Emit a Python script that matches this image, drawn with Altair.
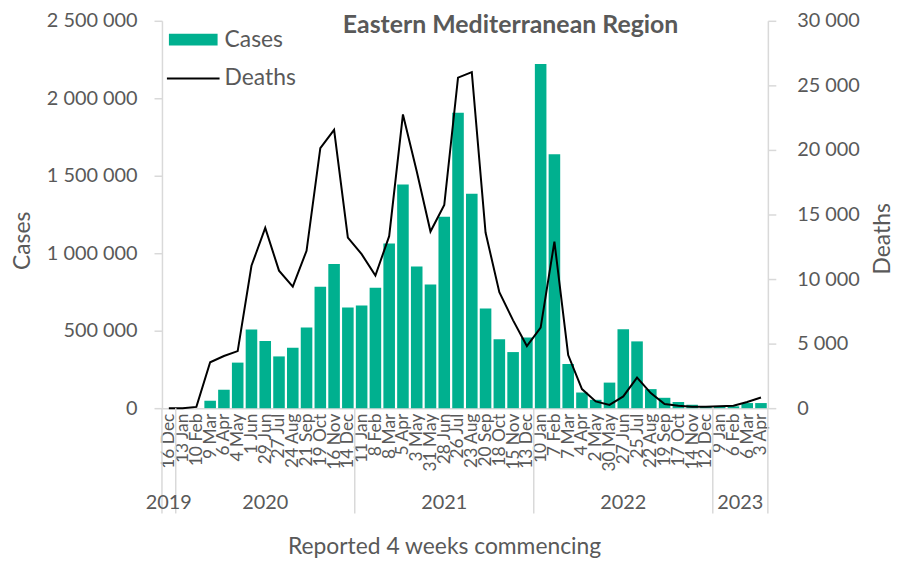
import json
import altair as alt
import pandas as pd

# ---------------- data ----------------
periods = ["16 Dec", "13 Jan", "10 Feb", "9 Mar", "6 Apr", "4 May", "1 Jun", "29 Jun", "27 Jul",
           "24 Aug", "21 Sep", "19 Oct", "16 Nov", "14 Dec", "11 Jan", "8 Feb", "8 Mar", "5 Apr",
           "3 May", "31 May", "28 Jun", "26 Jul", "23 Aug", "20 Sep", "18 Oct", "15 Nov", "13 Dec",
           "10 Jan", "7 Feb", "7 Mar", "4 Apr", "2 May", "30 May", "27 Jun", "25 Jul", "22 Aug",
           "19 Sep", "17 Oct", "14 Nov", "12 Dec", "9 Jan", "6 Feb", "6 Mar", "3 Apr"]
cases = [0, 0, 0, 48000, 119000, 294000, 508000, 433000, 334000,
         390000, 520000, 783000, 930000, 649000, 663000, 777000, 1063000, 1443000,
         915000, 798000, 1236000, 1907000, 1383000, 644000, 445000, 362000, 456000,
         2221000, 1638000, 285000, 101000, 54000, 165000, 510000, 431000, 123000,
         67000, 40000, 22000, 12000, 10000, 12000, 33000, 33000]
deaths = [0, 0, 100, 3550, 4040, 4420, 11030, 13960, 10650,
          9420, 12190, 20130, 21550, 13210, 11930, 10270, 13320, 22750,
          18340, 13680, 15730, 25600, 26030, 13600, 8980, 6800, 4810,
          6240, 12900, 4110, 1480, 520, 250, 910, 2370, 1170,
          320, 190, 115, 115, 150, 190, 480, 830]
years = ["2019", "2020", "2021", "2022", "2023"]
periods_per_year = [1, 13, 13, 13, 4]
chart_title = "Eastern Mediterranean Region"
legend_labels = ["Cases", "Deaths"]

# ---------------- styling ----------------
FONT = "Lato"
GREEN = "#00B08F"
TXT = "#595959"
AX = "#D9D9D9"
W, H = 610, 390

n = len(periods)
df = pd.DataFrame({"i": list(range(n)), "period": periods, "cases": cases, "deaths": deaths})

bounds = [-0.5]
for c in periods_per_year:
    bounds.append(bounds[-1] + c)
centers = [(bounds[k] + bounds[k + 1]) / 2 for k in range(len(years))]
sep_df = pd.DataFrame({"b": bounds})
year_df = pd.DataFrame({"c": centers, "year": years})
one = pd.DataFrame({"k": [0]})

xs = alt.Scale(domain=[-0.5, n - 0.5], nice=False, zero=False)
label_expr = json.dumps(periods) + "[datum.value]"
num_expr = "replace(format(datum.value, ','), /,/g, ' ')"

x_axis = alt.Axis(
    values=list(range(n)), labelExpr=label_expr, labelAngle=270, labelAlign="right",
    labelBaseline="middle", labelOverlap=False, labelBound=False, labelFlush=False,
    labelPadding=5, ticks=False, grid=False, labelFont=FONT, labelFontSize=17.5,
    labelColor=TXT, domainColor=AX, domainWidth=1.5,
    title="Reported 4 weeks commencing", titleFont=FONT, titleFontSize=23,
    titleFontWeight="normal", titleColor=TXT, titleX=284, titleY=139,
    titleBaseline="middle", titleAlign="center",
)

left_axis = alt.Axis(
    values=[0, 500000, 1000000, 1500000, 2000000, 2500000], labelExpr=num_expr,
    grid=False, tickSize=8, tickColor=AX, domainColor=AX, domainWidth=1.5, tickWidth=1.5,
    labelPadding=17, labelFont=FONT, labelFontSize=20, labelColor=TXT,
    title="Cases", titleFont=FONT, titleFontSize=23, titleFontWeight="normal", titleColor=TXT,
    titleAngle=270, titleX=-140, titleY=221, titleBaseline="middle", titleAlign="center",
)

right_axis = alt.Axis(
    orient="right", values=[0, 5000, 10000, 15000, 20000, 25000, 30000], labelExpr=num_expr,
    grid=False, tickSize=8, tickColor=AX, domainColor=AX, domainWidth=1.5, tickWidth=1.5,
    labelPadding=21, labelFont=FONT, labelFontSize=20, labelColor=TXT, labelAlign="left",
    title="Deaths", titleFont=FONT, titleFontSize=23, titleFontWeight="normal", titleColor=TXT,
    titleAngle=270, titleX=115, titleY=219, titleBaseline="middle", titleAlign="center",
)

bars = alt.Chart(df).transform_calculate(
    x0="datum.i - 0.42", x1="datum.i + 0.42"
).mark_rect(color=GREEN).encode(
    x=alt.X("x0:Q", scale=xs, axis=x_axis),
    x2="x1:Q",
    y=alt.Y("cases:Q", scale=alt.Scale(domain=[0, 2500000], nice=False, zero=True), axis=left_axis),
    y2=alt.datum(0),
)

line = alt.Chart(df).mark_line(color="black", strokeWidth=2).encode(
    x=alt.X("i:Q", scale=xs, axis=x_axis),
    y=alt.Y("deaths:Q", scale=alt.Scale(domain=[0, 30000], nice=False), axis=right_axis),
)

seps = alt.Chart(sep_df).mark_rule(color=AX, strokeWidth=1.5).encode(
    x=alt.X("b:Q", scale=xs, axis=x_axis),
    y=alt.value(H), y2=alt.value(H + 106),
)

year_text = alt.Chart(year_df).mark_text(
    font=FONT, fontSize=20, color=TXT, baseline="middle", align="center"
).encode(
    x=alt.X("c:Q", scale=xs, axis=x_axis), y=alt.value(H + 96), text="year:N",
)

title_text = alt.Chart(one).mark_text(
    font=FONT, fontSize=25, fontWeight="bold", color=TXT, baseline="middle", align="center"
).encode(x=alt.value(351), y=alt.value(4), text=alt.value(chart_title))

leg_rect = alt.Chart(one).mark_rect(color=GREEN).encode(
    x=alt.value(7), x2=alt.value(56), y=alt.value(13), y2=alt.value(25)
)
leg_rule = alt.Chart(one).mark_rule(color="black", strokeWidth=2).encode(
    x=alt.value(5), x2=alt.value(58), y=alt.value(58)
)
leg_cases = alt.Chart(one).mark_text(
    font=FONT, fontSize=23, color=TXT, align="left", baseline="middle"
).encode(x=alt.value(63), y=alt.value(19), text=alt.value(legend_labels[0]))
leg_deaths = alt.Chart(one).mark_text(
    font=FONT, fontSize=23, color=TXT, align="left", baseline="middle"
).encode(x=alt.value(63), y=alt.value(58), text=alt.value(legend_labels[1]))

chart = alt.layer(
    bars, line, seps, year_text, title_text, leg_rect, leg_rule, leg_cases, leg_deaths
).resolve_scale(y="independent").properties(
    width=W, height=H,
    autosize=alt.AutoSizeParams(type="none"),
    padding={"left": 155, "top": 11, "right": 128, "bottom": 154},
).configure_view(stroke=None)

chart.save("out.html", embed_options={"renderer": "svg", "actions": False})
